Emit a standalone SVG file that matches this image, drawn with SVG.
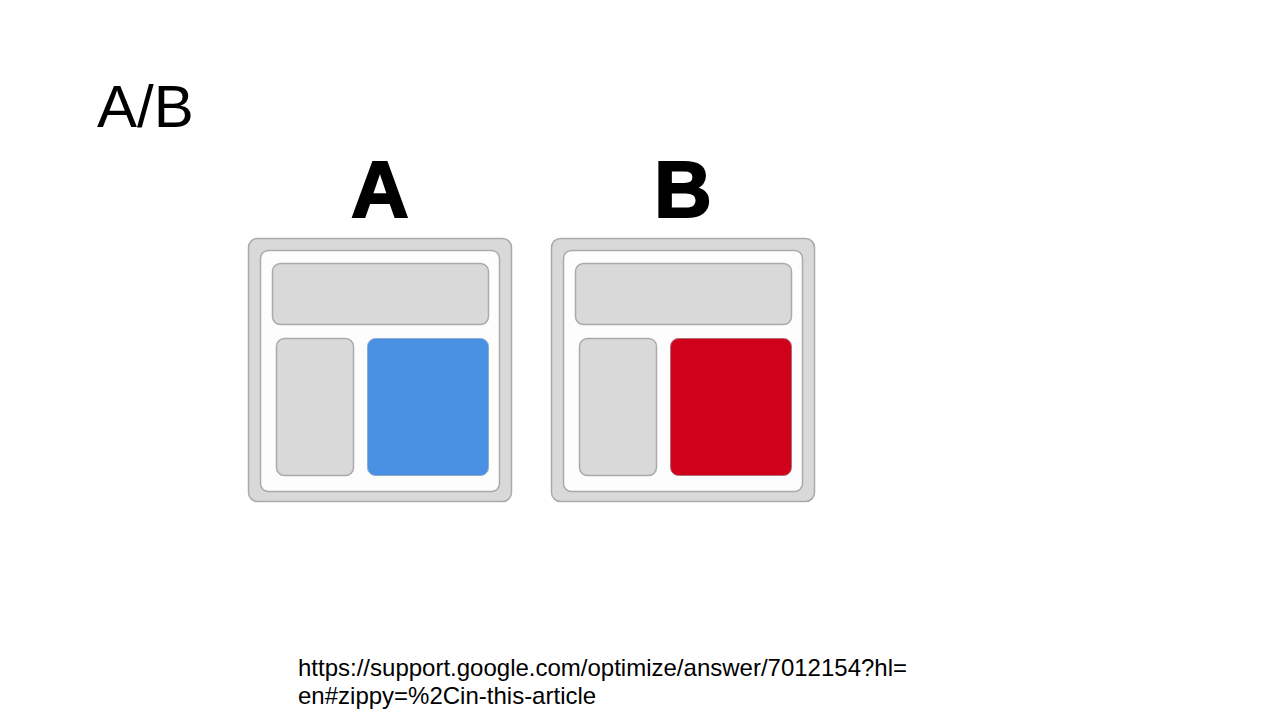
<svg xmlns="http://www.w3.org/2000/svg" width="1280" height="720" viewBox="0 0 1280 720">
<style>
.outer{fill:#d9d9d9;stroke:#aaaaaa;stroke-width:1.5}
.inner{fill:#fdfdfd;stroke:#aaaaaa;stroke-width:1.5}
.blk{fill:#d9d9d9;stroke:#aaaaaa;stroke-width:1.5}
.lbl{font-family:"Liberation Sans",Arial,sans-serif;font-weight:bold;font-size:80px;fill:#000;stroke:#000;stroke-width:2;text-anchor:middle}
.t{font-family:"Liberation Sans",Arial,sans-serif;fill:#000}
</style>
<rect width="1280" height="720" fill="#ffffff"/>
<text class="t" x="97" y="127" font-size="60">A/B</text>
<g id="variantA">
<text class="lbl" x="380" y="217">A</text>
<rect class="outer" x="248.5" y="238.5" width="263" height="263" rx="9"/>
<rect class="inner" x="260.5" y="250.5" width="239" height="241" rx="8"/>
<rect class="blk" x="272.5" y="263.5" width="216" height="61" rx="8"/>
<rect class="blk" x="276.5" y="338.5" width="77" height="137" rx="8"/>
<rect x="367.5" y="338.5" width="121" height="137" rx="8" fill="#4a90e2" stroke="#8fa9c9" stroke-width="1"/>
</g>
<g id="variantB">
<text class="lbl" x="683" y="217">B</text>
<rect class="outer" x="551.5" y="238.5" width="263" height="263" rx="9"/>
<rect class="inner" x="563.5" y="250.5" width="239" height="241" rx="8"/>
<rect class="blk" x="575.5" y="263.5" width="216" height="61" rx="8"/>
<rect class="blk" x="579.5" y="338.5" width="77" height="137" rx="8"/>
<rect x="670.5" y="338.5" width="121" height="137" rx="8" fill="#d0021b" stroke="#b0707a" stroke-width="1"/>
</g>
<text class="t" x="298" y="676" font-size="24">https://support.google.com/optimize/answer/7012154?hl=</text>
<text class="t" x="298" y="704" font-size="24">en#zippy=%2Cin-this-article</text>
</svg>
